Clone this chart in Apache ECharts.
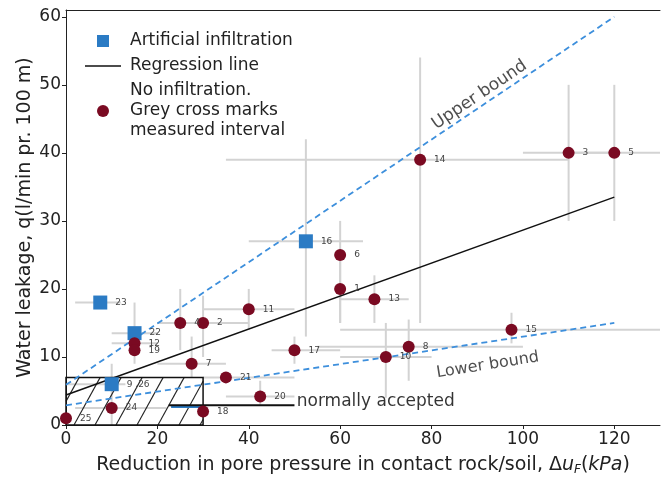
<!DOCTYPE html>
<html><head><meta charset="utf-8">
<script src="https://cdn.jsdelivr.net/npm/echarts/dist/echarts.min.js"></script>
<style>html,body{margin:0;padding:0;background:#fff}#c{width:665px;height:478px}</style>
</head><body><div id="c"></div>
<script>
// ---- No infiltration (red dots) ----
const noInfLabels = ['1','2','3','4','5','6','7','8','10','11','12','13','14','15','17','18','19','20','21','24','25'];
const noInfX = [60, 30, 110, 25, 120, 60, 27.5, 75, 70, 40, 15, 67.5, 77.5, 97.5, 50, 30, 15, 42.5, 35, 10, 0];
const noInfY = [20, 15, 40, 15, 40, 25, 9, 11.5, 10, 17, 12, 18.5, 39, 14, 11, 2, 11, 4.2, 7, 2.5, 1];
const noInfXRange = [null, [20,40], [100,120], [20,30], [110,130], null, [20,35], [55,100], [60,80], [30,50], [10,20], [60,75], [35,110], [60,130], [45,60], null, null, [35,50], [30,50], [2,22], null];
const noInfYRange = [[15,25], [10,19], [30,50], [11,20], [30,50], [15,30], [7,13], [6.5,15.5], [4,15], [14,20], null, [15,22], [15,54], [12,16.5], [9,13], null, null, [3,6.5], null, [0,4.5], null];

// ---- Artificial infiltration (blue squares) ----
const artLabels = ['9 ,26', '16', '22', '23'];
const artX = [10, 52.5, 15, 7.5];
const artY = [6, 27, 13.5, 18];
const artXRange = [[0,13], [40,65], [10,20], [2,12]];
const artYRange = [[4.5,9], [13,42], [9,18], null];

// ---- Lines ----
const regX = [0, 120], regY = [4.4, 33.5];
const upperX = [0, 120], upperY = [5.9, 60];
const lowerX = [0, 120], lowerY = [2.9, 15];

// ---- "normally accepted" region ----
const boxX = [0, 30], boxY = [0, 7];
const acceptX = [22.5, 50], acceptY = [2.9, 2.9];
const acceptArrowX = [23, 30], acceptArrowY = [2.65, 2.65];

// ---- Text annotations ----
const upperText = 'Upper bound', upperPos = [90.5, 48.5];
const lowerText = 'Lower bound', lowerPos = [92.3, 8.8];
const acceptText = 'normally accepted', acceptPos = [50.5, 3.5];

// ---- Axes ----
const xTicks = {min: 0, max: 130, interval: 20};
const yTicks = {min: 0, max: 61, interval: 10};

const FONT = 'DejaVu Sans';
const NAME_ART = 'Artificial infiltration';
const NAME_REG = 'Regression line';
const NAME_NO = 'No infiltration.\nGrey cross marks\nmeasured interval';

function pts(xs, ys, ls) { return xs.map((x, i) => [x, ys[i], ls[i]]); }
function bars(xs, ys, xr, yr) {
  return xs.map((x, i) => {
    const a = xr[i] || [x, x], b = yr[i] || [ys[i], ys[i]];
    return [x, ys[i], a[0], a[1], b[0], b[1]];
  });
}
function line(xs, ys) { return xs.map((x, i) => [x, ys[i]]); }

const errData = bars(noInfX, noInfY, noInfXRange, noInfYRange).concat(bars(artX, artY, artXRange, artYRange));

const pointLabel = {
  show: true, position: 'right', distance: 8,
  fontFamily: FONT, fontSize: 9, color: '#444',
  formatter: p => p.value[2]
};

const chart = echarts.init(document.getElementById('c'), null, {renderer: 'canvas'});
chart.setOption({
  animation: false,
  textStyle: {fontFamily: FONT},
  grid: {left: 66, right: 5, top: 10, bottom: 53, outerBoundsMode: 'none', containLabel: false},
  legend: {
    data: [
      {name: NAME_ART, icon: 'path://M0,0H10V10H0Z'},
      {name: NAME_REG, icon: 'path://M0,0H36V1.4H0Z', itemStyle: {color: '#111'}},
      {name: NAME_NO, icon: 'circle'}
    ],
    orient: 'vertical', left: 80, top: 26, itemWidth: 36, itemHeight: 12, itemGap: 5,
    selectedMode: false,
    textStyle: {fontFamily: FONT, fontSize: 17, color: '#222', lineHeight: 20, padding: [0, 0, 0, 4]}
  },
  xAxis: [{
    type: 'value', min: xTicks.min, max: xTicks.max, interval: xTicks.interval,
    axisLine: {show: true, lineStyle: {color: '#222', width: 1}},
    axisTick: {show: true, length: 4, lineStyle: {color: '#222'}},
    axisLabel: {fontSize: 17, color: '#222', margin: 6, showMaxLabel: false},
    splitLine: {show: false},
    name: 'Reduction in pore pressure in contact rock/soil, Δ{i|u}{s|F}({i|kPa})',
    nameLocation: 'middle', nameGap: 28, nameMoveOverlap: false,
    nameTextStyle: {
      fontSize: 19, color: '#222', lineHeight: 24,
      rich: {
        i: {fontStyle: 'italic', fontSize: 19, color: '#222'},
        s: {fontStyle: 'italic', fontSize: 12, color: '#222', padding: [9, 0, 0, 0]}
      }
    }
  }, {
    type: 'value', position: 'top', min: xTicks.min, max: xTicks.max,
    axisLine: {show: true, lineStyle: {color: '#222', width: 1}},
    axisTick: {show: false}, axisLabel: {show: false}, splitLine: {show: false}
  }],
  yAxis: {
    type: 'value', min: yTicks.min, max: yTicks.max, interval: yTicks.interval,
    axisLine: {show: true, lineStyle: {color: '#222', width: 1}},
    axisTick: {show: true, length: 4, lineStyle: {color: '#222'}},
    axisLabel: {fontSize: 17, color: '#222', margin: 5, showMaxLabel: false},
    splitLine: {show: false},
    name: 'Water leakage, q(l/min pr. 100 m)',
    nameLocation: 'middle', nameGap: 31, nameMoveOverlap: false,
    nameTextStyle: {fontSize: 19, color: '#222'}
  },
  series: [
    {
      type: 'custom', name: 'errorbars', silent: true, z: 1,
      data: errData,
      renderItem(params, api) {
        const x = api.value(0), y = api.value(1);
        const xlo = api.value(2), xhi = api.value(3), ylo = api.value(4), yhi = api.value(5);
        const ch = [];
        const st = {stroke: '#d3d3d3', lineWidth: 2};
        if (xhi > xlo) {
          const a = api.coord([xlo, y]), b = api.coord([xhi, y]);
          ch.push({type: 'line', shape: {x1: a[0], y1: a[1], x2: b[0], y2: b[1]}, style: st});
        }
        if (yhi > ylo) {
          const a = api.coord([x, ylo]), b = api.coord([x, yhi]);
          ch.push({type: 'line', shape: {x1: a[0], y1: a[1], x2: b[0], y2: b[1]}, style: st});
        }
        return {type: 'group', children: ch};
      }
    },
    {
      type: 'custom', name: 'acceptedBox', silent: true, z: 2,
      data: [[boxX[0], boxX[1], boxY[0], boxY[1]]],
      renderItem(params, api) {
        const p0 = api.coord([api.value(0), api.value(2)]);
        const p1 = api.coord([api.value(1), api.value(3)]);
        const L = p0[0], B = p0[1], R = p1[0], T = p1[1];
        const H = B - T, s = 0.55, gap = 21;
        const ch = [];
        for (let x0 = L + 8 - gap * Math.ceil((s * H + 8) / gap); x0 < R; x0 += gap) {
          const tmin = Math.max(0, (L - x0) / s), tmax = Math.min(H, (R - x0) / s);
          if (tmax > tmin) ch.push({type: 'line', shape: {x1: x0 + s * tmin, y1: B - tmin, x2: x0 + s * tmax, y2: B - tmax}, style: {stroke: '#222', lineWidth: 1.1}});
        }
        ch.push({type: 'rect', shape: {x: L, y: T, width: R - L, height: H}, style: {fill: null, stroke: '#111', lineWidth: 1.5}});
        return {type: 'group', children: ch};
      }
    },
    {
      type: 'line', name: 'acceptArrow', data: line(acceptArrowX, acceptArrowY), symbol: 'none', z: 3,
      lineStyle: {color: '#2b7bc4', width: 2}, silent: true
    },
    {
      type: 'line', name: 'acceptLine', data: line(acceptX, acceptY), symbol: 'none', z: 3,
      lineStyle: {color: '#111', width: 1.8}, silent: true
    },
    {
      type: 'line', name: 'Upper', data: line(upperX, upperY), symbol: 'none', z: 3,
      lineStyle: {color: '#3d8fdc', width: 1.8, type: [6, 4]}, silent: true
    },
    {
      type: 'line', name: 'Lower', data: line(lowerX, lowerY), symbol: 'none', z: 3,
      lineStyle: {color: '#3d8fdc', width: 1.8, type: [6, 4]}, silent: true
    },
    {
      type: 'line', name: NAME_REG, data: line(regX, regY), symbol: 'none', z: 4,
      lineStyle: {color: '#111', width: 1.5}, itemStyle: {color: '#111'}, silent: true
    },
    {
      type: 'scatter', name: NAME_ART, data: pts(artX, artY, artLabels), z: 5,
      symbol: 'rect', symbolSize: 14, itemStyle: {color: '#2b7bc4', opacity: 1},
      label: pointLabel
    },
    {
      type: 'scatter', name: NAME_NO, data: pts(noInfX, noInfY, noInfLabels), z: 6,
      symbol: 'circle', symbolSize: 12, itemStyle: {color: '#7a0a22', opacity: 1},
      label: pointLabel
    },
    {
      type: 'scatter', name: 'annotations', silent: true, z: 7, symbolSize: 0,
      data: [
        {value: upperPos, label: {formatter: upperText, rotate: 34, position: 'inside', fontSize: 17, color: '#222'}},
        {value: lowerPos, label: {formatter: lowerText, rotate: 9, position: 'inside', fontSize: 16, color: '#222'}},
        {value: acceptPos, label: {formatter: acceptText, position: 'right', distance: 0, fontSize: 17, color: '#000'}}
      ],
      label: {show: true, fontFamily: FONT, color: '#222'}
    }
  ]
});
</script>
</body></html>
